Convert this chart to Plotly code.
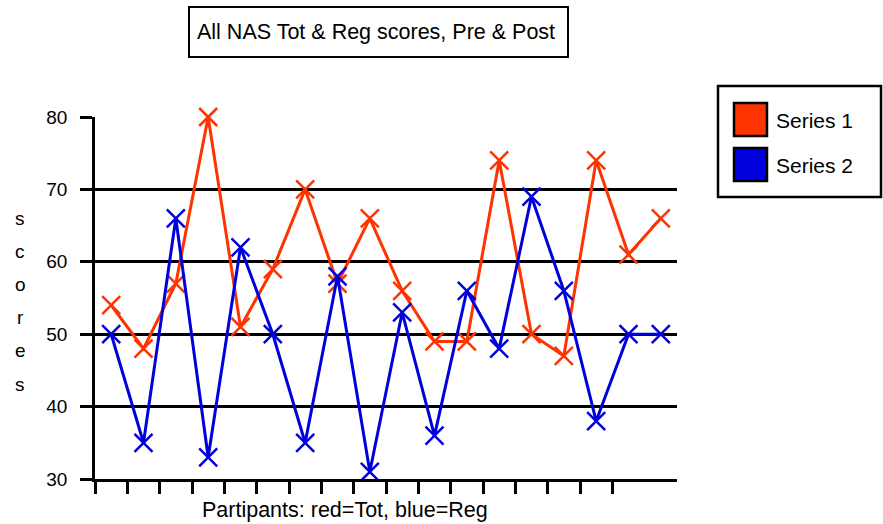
import plotly.graph_objects as go

# Scores per participant
participants = list(range(1, 19))
tot_scores = [54, 48, 57, 80, 51, 59, 70, 57, 66, 56, 49, 49, 74, 50, 47, 74, 61, 66]
reg_scores = [50, 35, 66, 33, 62, 50, 35, 58, 31, 53, 36, 56, 48, 69, 56, 38, 50, 50]
series_names = ["Series 1", "Series 2"]
series_colors = ["#ff3300", "#0000dd"]
y_ticks = [30, 40, 50, 60, 70, 80]

FONT = "Liberation Sans, Arial, Helvetica, sans-serif"
TEXT_SIZE = 21
TITLE_SIZE = 21.5
W, H = 883, 524
ML, MR, MT, MB = 95, 206, 117, 45
PW, PH = W - ML - MR, H - MT - MB


def px(x):
    return (x - ML) / PW


def py(y):
    return (H - MB - y) / PH


fig = go.Figure()
for name, vals, col in zip(series_names, [tot_scores, reg_scores], series_colors):
    fig.add_trace(go.Scatter(
        x=participants, y=vals, name=name, mode="lines+markers",
        line=dict(color=col, width=3),
        marker=dict(symbol="x-thin-open", size=18, line=dict(color=col, width=2.5)),
        showlegend=False, cliponaxis=False,
    ))

fig.update_layout(
    width=W, height=H,
    margin=dict(l=ML, r=MR, t=MT, b=MB),
    paper_bgcolor="white", plot_bgcolor="white",
    font=dict(family=FONT, size=TEXT_SIZE, color="black"),
    xaxis=dict(
        range=[0.5, 18.5], showgrid=False, zeroline=False,
        showline=True, linecolor="black", linewidth=2.5,
        tickmode="array", tickvals=[i + 0.5 for i in range(0, 17)],
        ticktext=[""] * 17, ticks="outside", ticklen=12, tickwidth=2.5, tickcolor="black",
    ),
    yaxis=dict(
        range=[30, 80], showgrid=True, gridcolor="black", gridwidth=2.5,
        zeroline=False, showline=True, linecolor="black", linewidth=2.5,
        tickmode="array", tickvals=y_ticks,
        ticks="outside", ticklen=12, tickwidth=2.5, tickcolor="black",
        tickfont=dict(size=19), ticklabelstandoff=9,
    ),
)

# Title box
fig.add_annotation(
    xref="paper", yref="paper", x=px(378.5), y=py(32),
    text="All NAS Tot & Reg scores, Pre & Post", showarrow=False,
    font=dict(size=TITLE_SIZE), align="left", width=363, height=34,
    bordercolor="black", borderwidth=2, borderpad=7, bgcolor="white",
    xanchor="center", yanchor="middle",
)

# Axis titles
fig.add_annotation(
    xref="paper", yref="paper", x=px(345), y=py(510),
    text="Partipants: red=Tot, blue=Reg", showarrow=False,
    font=dict(size=TITLE_SIZE), xanchor="center", yanchor="middle",
)
for i, ch in enumerate("scores"):
    fig.add_annotation(
        xref="paper", yref="paper", x=px(20), y=py(218 + i * 33.2),
        text=ch, showarrow=False, font=dict(size=19),
        xanchor="center", yanchor="middle",
    )

# Legend box
fig.add_shape(type="rect", xref="paper", yref="paper",
              x0=px(718), x1=px(881), y0=py(86), y1=py(197),
              line=dict(color="black", width=2.5), fillcolor="white", layer="above")
for i, (name, col) in enumerate(zip(series_names, series_colors)):
    top = 103 + i * 45
    fig.add_shape(type="rect", xref="paper", yref="paper",
                  x0=px(734), x1=px(767), y0=py(top), y1=py(top + 33),
                  line=dict(color="black", width=2.5), fillcolor=col, layer="above")
    fig.add_annotation(
        xref="paper", yref="paper", x=px(774), y=py(top + 17),
        text=name, showarrow=False, font=dict(size=TEXT_SIZE),
        xanchor="left", yanchor="middle",
    )

fig.write_html("out.html")
